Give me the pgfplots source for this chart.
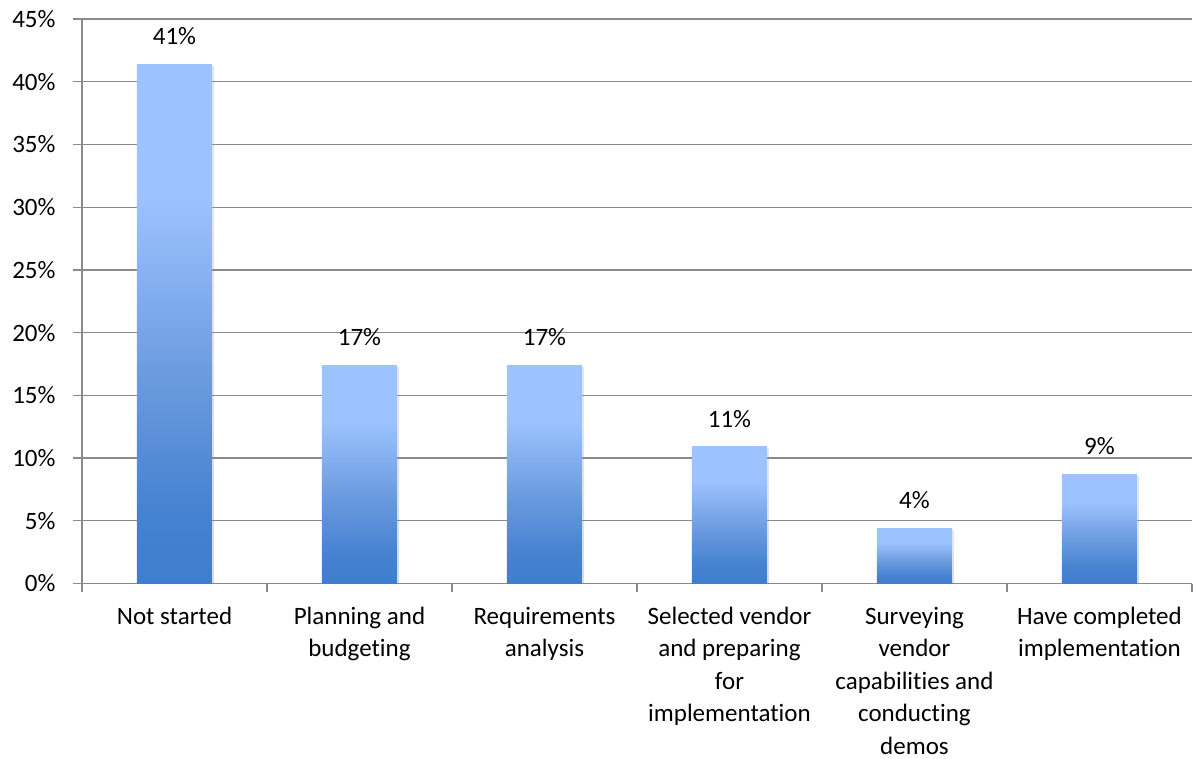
\documentclass[border=0pt]{standalone}
\usepackage{fontspec}
\setmainfont[Ligatures=NoCommon]{Carlito}
\usepackage{pgfplots}
\pgfplotsset{compat=1.18}
\usetikzlibrary{shadows}

\definecolor{barlight}{HTML}{9CC2FF}
\definecolor{barmid}{HTML}{6B9BDF}
\definecolor{bardark}{HTML}{3F7ECE}
\definecolor{gridgray}{HTML}{8A8A8A}

% vertical gradient for each bar (the bar spans 25bp..75bp of the shading):
% dark at the foot, light over the upper quarter
\pgfdeclareverticalshading{barshade}{100bp}{%
  color(0bp)=(bardark); color(25bp)=(bardark); color(32bp)=(bardark!85!barmid);
  color(45bp)=(barmid); color(62bp)=(barlight); color(100bp)=(barlight)}

\newcommand{\chartfont}{\fontsize{25bp}{32.5bp}\selectfont}

% one bar per plot, so that every bar gets its own gradient
\pgfplotsset{gradbar/.style={draw=none, shading=barshade,
  drop shadow={shadow xshift=2bp, shadow yshift=-2bp, opacity=0.15}}}

\begin{document}
\begin{tikzpicture}
\begin{axis}[
  at={(0,0)}, anchor=south west,
  scale only axis, width=1110bp, height=564.5bp,
  ybar, bar width=75bp, bar shift=0pt,
  xmin=-0.5, xmax=5.5, ymin=0, ymax=45,
  ytick={0,5,...,45},
  yticklabel={\pgfmathprintnumber[assume math mode=true]{\tick}\%},
  xtick={0,...,5},
  xticklabels={Not started,
    {Planning and\\budgeting},
    {Requirements\\analysis},
    {Selected vendor\\and preparing\\for\\implementation},
    {Surveying\\vendor\\capabilities and\\conducting\\demos},
    {Have completed\\implementation}},
  minor xtick={-0.5,0.5,...,5.5},
  axis lines=left,
  axis line style={-, gridgray, line width=1.3bp},
  ymajorgrids,
  grid style={gridgray, line width=1.3bp},
  tick align=outside,
  major tick length=9bp,
  minor tick length=8bp,
  ytick style={gridgray, line width=1.3bp},
  minor x tick style={gridgray, line width=1.3bp},
  major x tick style={draw=none},
  yticklabel style={font=\chartfont, text=black, xshift=-14bp},
  xticklabel style={font=\chartfont, text=black, align=center, yshift=-11bp},
  nodes near coords={\pgfmathprintnumber[fixed,precision=0,assume math mode=true]{\pgfplotspointmeta}\%},
  every node near coord/.append style={font=\chartfont, text=black, inner sep=0pt, yshift=19bp},
]
\addplot[gradbar] coordinates {(0,41.4)};
\addplot[gradbar] coordinates {(1,17.4)};
\addplot[gradbar] coordinates {(2,17.4)};
\addplot[gradbar] coordinates {(3,10.9)};
\addplot[gradbar] coordinates {(4,4.4)};
\addplot[gradbar] coordinates {(5,8.7)};
\end{axis}
\pgfresetboundingbox
\path[use as bounding box] (-82bp,-175.5bp) rectangle (1111bp,583.5bp);
\end{tikzpicture}
\end{document}
